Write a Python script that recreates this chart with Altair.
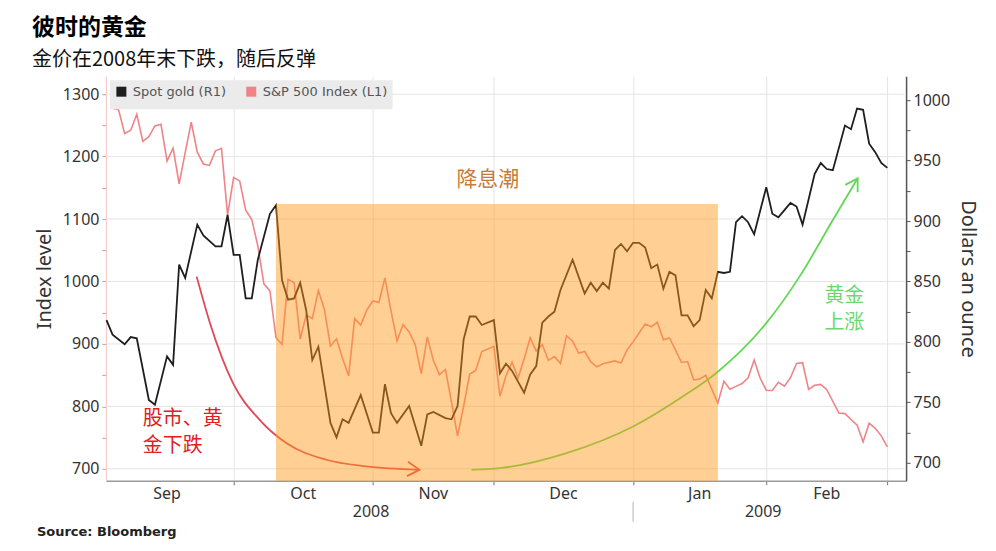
import altair as alt
import numpy as np
import pandas as pd

# ---------------- data ----------------
START = "2008-09-01"          # first weekday of the weekday calendar (x = weekday index)
CAL_END = "2009-02-27"

GOLD_NAME = "Spot gold (R1)"
SP_NAME = "S&P 500 Index (L1)"

# S&P 500 (left axis), one value per trading day, grouped by month
sp_holidays = ["2008-11-27", "2008-12-25", "2009-01-01", "2009-01-19", "2009-02-16"]
sp_sep = [1277.6, 1275.0, 1236.8, 1242.3, 1267.8, 1224.5, 1232.0, 1249.1, 1251.7, 1192.7,
          1213.6, 1156.4, 1206.5, 1255.1, 1207.1, 1188.2, 1185.9, 1209.2, 1213.3, 1106.4, 1166.4]
sp_oct = [1161.1, 1114.3, 1099.2, 1056.9, 996.2, 984.9, 909.9, 899.2, 1003.4, 998.0, 907.8,
          946.4, 940.6, 985.4, 955.1, 896.8, 908.1, 876.8, 848.9, 940.5, 930.1, 954.1, 968.8]
sp_nov = [966.3, 1005.8, 952.8, 904.9, 931.0, 919.2, 899.0, 852.3, 911.3, 873.3, 850.8,
          859.1, 806.6, 752.4, 800.0, 851.8, 857.4, 887.7, 896.2]
sp_dec = [816.2, 848.8, 870.7, 845.2, 876.1, 909.7, 888.7, 899.2, 873.6, 879.7, 868.6,
          913.2, 904.4, 885.3, 887.9, 871.6, 863.2, 868.2, 872.8, 869.4, 890.6, 903.3]
sp_jan = [931.8, 927.5, 934.7, 906.7, 909.7, 890.4, 870.3, 871.8, 842.6, 843.7, 850.1,
          805.2, 840.2, 827.5, 832.0, 836.6, 845.7, 874.1, 845.1, 825.9]
sp_feb = [825.4, 838.5, 832.2, 845.9, 868.6, 869.9, 827.2, 833.7, 835.2, 826.8, 789.2,
          788.4, 778.9, 770.1, 743.3, 773.1, 764.9, 752.8, 735.1]

# Spot gold (right axis), vertices
gold_dates = [
    "2008-09-01", "2008-09-02", "2008-09-04", "2008-09-05", "2008-09-08", "2008-09-10",
    "2008-09-11", "2008-09-15", "2008-09-16", "2008-09-17", "2008-09-18", "2008-09-22",
    "2008-09-23", "2008-09-25", "2008-09-26", "2008-09-29", "2008-09-30", "2008-10-01",
    "2008-10-02", "2008-10-03", "2008-10-06", "2008-10-08", "2008-10-09", "2008-10-10",
    "2008-10-13", "2008-10-14", "2008-10-15", "2008-10-16", "2008-10-17", "2008-10-20",
    "2008-10-22", "2008-10-23", "2008-10-24", "2008-10-27", "2008-10-29", "2008-10-31",
    "2008-11-03", "2008-11-04", "2008-11-05", "2008-11-06", "2008-11-10", "2008-11-12",
    "2008-11-13", "2008-11-14", "2008-11-18", "2008-11-19", "2008-11-20", "2008-11-21",
    "2008-11-24", "2008-11-25", "2008-11-26", "2008-11-28", "2008-12-01", "2008-12-02",
    "2008-12-03", "2008-12-05", "2008-12-08", "2008-12-09", "2008-12-10", "2008-12-11",
    "2008-12-12", "2008-12-15", "2008-12-17", "2008-12-19", "2008-12-22", "2008-12-23",
    "2008-12-24", "2008-12-25", "2008-12-26", "2008-12-29", "2008-12-30", "2008-12-31",
    "2009-01-01", "2009-01-02", "2009-01-05", "2009-01-06", "2009-01-07", "2009-01-08",
    "2009-01-09", "2009-01-12", "2009-01-13", "2009-01-14", "2009-01-15", "2009-01-16",
    "2009-01-19", "2009-01-20", "2009-01-21", "2009-01-22", "2009-01-23", "2009-01-26",
    "2009-01-27", "2009-01-28", "2009-01-30", "2009-02-02", "2009-02-03", "2009-02-04",
    "2009-02-05", "2009-02-06", "2009-02-09", "2009-02-11", "2009-02-12", "2009-02-13",
    "2009-02-16", "2009-02-18", "2009-02-19", "2009-02-20", "2009-02-23", "2009-02-24",
    "2009-02-25", "2009-02-26", "2009-02-27"]
gold_vals = [
    818, 806, 798, 804, 803, 752,
    748, 788, 781, 864, 853, 897,
    888, 879, 879, 905, 872, 872,
    836, 836, 868, 906, 913, 851,
    835, 836, 849, 826, 785, 796,
    733, 721, 736, 733, 756, 725,
    725, 765, 741, 733, 747, 714,
    740, 742, 737, 736, 747, 802,
    821, 821, 814, 818, 774, 782,
    776, 758, 773, 780, 816, 821,
    825, 843, 868, 840, 849, 842,
    849, 844, 876, 881, 875, 882,
    882, 878, 861, 864, 844, 858,
    855, 822, 822, 813, 818, 843,
    836, 858, 857, 858, 899, 904,
    899, 889, 928, 906, 903, 909,
    915, 912, 897, 939, 948, 943,
    942, 979, 976, 993, 992, 964,
    957, 948, 944]

# shaded "rate-cut wave" period (right-axis units for its top)
rate_cut_dates = ["2008-10-09", "2009-01-20"]
rate_cut_top = 914

# axis tick values
left_ticks = list(range(700, 1301, 50))
right_ticks = list(range(700, 1001, 25))
left_grid = list(range(700, 1301, 100))

# annotation arrows (x = weekday index, y = dollars)
red_arrow_i = [14.9, 17.1, 20.9, 25.3, 29.7, 36.3, 42.9, 51.7]
red_arrow_v = [854.0, 815.5, 765.9, 735.5, 716.3, 702.5, 697.0, 694.2]
green_arrow_i = [60.3, 65.0, 76.0, 87.0, 95.2, 100.7, 109.0, 114.5, 120.0, 124.1]
green_arrow_v = [694.2, 695.6, 708.0, 730.0, 754.8, 774.1, 815.5, 854.0, 900.8, 935.3]

# ---------------- layout ----------------
W, H = 801, 405
X_DOM = [-0.1, 132.1]
L_DOM = [680.8, 1328.8]
R_DOM = [685.1, 1019.8]


def widx(dates):
    return np.busday_count(START, list(dates)).astype(float)


sp_dates = [d for d in pd.bdate_range("2008-09-02", CAL_END).strftime("%Y-%m-%d")
            if d not in sp_holidays]
sp_vals = sp_sep + sp_oct + sp_nov + sp_dec + sp_jan + sp_feb
sp_df = pd.DataFrame({"date": sp_dates, "v": sp_vals, "s": SP_NAME})
sp_df["i"] = widx(sp_df["date"])

gold_df = pd.DataFrame({"date": gold_dates, "v": gold_vals, "s": GOLD_NAME})
gold_df["i"] = widx(gold_df["date"])

cal = pd.DataFrame({"d": pd.bdate_range(START, CAL_END)})
cal["i"] = np.arange(len(cal), dtype=float)
cal["m"] = cal["d"].dt.strftime("%b")
cal["ym"] = cal["d"].dt.strftime("%Y-%m")
cal["y"] = cal["d"].dt.strftime("%Y")
months = cal.groupby("ym").agg(m=("m", "first"), first=("i", "min"), last=("i", "max")).reset_index()
months["i"] = (months["first"] + months["last"]) / 2 - 0.5
month_end_idx = [float(v) for v in months["last"]]
years = cal.groupby("y").agg(first=("i", "min"), last=("i", "max")).reset_index()
years["lo"] = np.maximum(years["first"] - 0.5, X_DOM[0])
years["hi"] = np.minimum(years["last"] + 0.5, X_DOM[1])
years["i"] = (years["lo"] + years["hi"]) / 2
year_sep = float(years["last"].iloc[0])

xs = alt.Scale(domain=X_DOM, nice=False, zero=False)
ls = alt.Scale(domain=L_DOM, nice=False, zero=False)
rs = alt.Scale(domain=R_DOM, nice=False, zero=False)

LABEL_FONT = "Noto Sans"
CJK = "Noto Sans CJK SC"

legend = alt.Legend(title=None, orient="none", legendX=4, legendY=4, direction="horizontal",
                    fillColor="#EBEBEB", padding=5, symbolType="square", symbolSize=25,
                    symbolStrokeWidth=5, labelFont="DejaVu Sans", labelFontSize=13,
                    labelColor="#555555", columnPadding=12, labelOffset=5)
color = alt.Color("s:N", scale=alt.Scale(domain=[GOLD_NAME, SP_NAME],
                                         range=["#1E1E1E", "#EE8488"]), legend=legend)

x_axis = alt.Axis(values=month_end_idx, labels=False, ticks=True, tickSize=4, tickColor="#777777",
                  domainColor="#9A9A9A", domainWidth=1.5, grid=True, gridColor="#E4E4E4", title=None)
X = alt.X("i:Q", scale=xs, axis=x_axis)

l_axis = alt.Axis(orient="left", values=left_ticks, format="d",
                  labelExpr="datum.value % 100 == 0 ? datum.label : ''",
                  title="Index level", titleFont=LABEL_FONT, titleFontSize=20,
                  titleFontWeight="normal", titleColor="#333333", titlePadding=8,
                  labelFont=LABEL_FONT, labelFontSize=16, labelColor="#333333", labelPadding=3,
                  tickColor="#E89090", tickSize=4, domainColor="#F3C5C5", grid=False)
r_axis = alt.Axis(orient="right", values=right_ticks, format="d",
                  labelExpr="datum.value % 50 == 0 ? datum.label : ''",
                  title="Dollars an ounce", titleAngle=90, titleFont=LABEL_FONT, titleFontSize=20,
                  titleFontWeight="normal", titleColor="#333333", titlePadding=8,
                  labelFont=LABEL_FONT, labelFontSize=16, labelColor="#333333", labelPadding=3,
                  tickColor="#555555", tickSize=4, domainColor="#555555", domainWidth=1.5, grid=False)

YL = alt.Y("v:Q", scale=ls, axis=l_axis)
YR = alt.Y("v:Q", scale=rs, axis=r_axis)

# ---------- left-axis group ----------
grid = alt.Chart(pd.DataFrame({"v": left_grid})).mark_rule(color="#E4E4E4", strokeWidth=1).encode(y=YL)
sp_line = alt.Chart(sp_df).mark_line(strokeWidth=1.6).encode(x=X, y=YL, color=color)
month_labels = alt.Chart(months).mark_text(font=LABEL_FONT, fontSize=16, color="#333333",
                                           baseline="middle").encode(
    x=X, y=alt.value(H + 13), text="m:N")
year_labels = alt.Chart(years).mark_text(font=LABEL_FONT, fontSize=16, color="#333333",
                                         baseline="middle").encode(
    x=X, y=alt.value(H + 31), text="y:N")
sep = alt.Chart(pd.DataFrame({"i": [year_sep]})).mark_rule(color="#B5B5B5", strokeWidth=1).encode(
    x=X, y=alt.value(H + 21), y2=alt.value(H + 41))
source = alt.Chart(pd.DataFrame({"t": ["Source: Bloomberg"]})).mark_text(
    font="DejaVu Sans", fontWeight="bold", fontSize=13, align="left", baseline="middle",
    color="#222222").encode(x=alt.value(-69), y=alt.value(H + 51), text="t:N")

left = alt.layer(grid, sp_line, month_labels, year_labels, sep, source)

# ---------- right-axis group ----------
gold_line = alt.Chart(gold_df).mark_line(strokeWidth=1.8).encode(x=X, y=YR, color=color)

CHEVRON = "M -1 -0.6 L 0 0 L -1 0.6"
red_df = pd.DataFrame({"i": red_arrow_i, "v": red_arrow_v})
green_df = pd.DataFrame({"i": green_arrow_i, "v": green_arrow_v})
red_arrow = alt.Chart(red_df).mark_line(color="#E04858", strokeWidth=1.8,
                                        interpolate="monotone").encode(x=X, y=YR)
red_head = alt.Chart(red_df.tail(1)).mark_point(shape=CHEVRON, filled=False, size=576, strokeWidth=1.8,
                                                color="#E04858", opacity=1, angle=4).encode(x=X, y=YR)
green_arrow = alt.Chart(green_df).mark_line(color="#62D855", strokeWidth=1.8,
                                            interpolate="monotone").encode(x=X, y=YR)
green_head = alt.Chart(green_df.tail(1)).mark_point(shape=CHEVRON, filled=False, size=576, strokeWidth=1.8,
                                                    color="#62D855", opacity=1, angle=301).encode(x=X, y=YR)

t_rate = alt.Chart(pd.DataFrame({"i": [63.0], "v": [934.0], "t": ["降息潮"]})).mark_text(
    font=CJK, fontSize=21, color="#C97B35", baseline="middle").encode(x=X, y=YR, text="t:N")
t_down = alt.Chart(pd.DataFrame({"i": [6.0, 6.0], "v": [736.5, 714.0], "t": ["股市、黄", "金下跌"]})).mark_text(
    font=CJK, fontSize=20, color="#E0201E", align="left", baseline="middle").encode(x=X, y=YR, text="t:N")
t_up = alt.Chart(pd.DataFrame({"i": [121.9, 121.9], "v": [838.0, 816.0], "t": ["黄金", "上涨"]})).mark_text(
    font=CJK, fontSize=20, color="#6CD86C", baseline="middle").encode(x=X, y=YR, text="t:N")

rect_df = pd.DataFrame({"i": widx(rate_cut_dates[:1]), "i2": widx(rate_cut_dates[1:]),
                        "v": [rate_cut_top], "bot": [R_DOM[0]]})
rate_rect = alt.Chart(rect_df).mark_rect(color="#FF9A1B", opacity=0.47).encode(
    x=X, x2="i2:Q", y=YR, y2="bot:Q")

right = alt.layer(gold_line, red_arrow, red_head, green_arrow, green_head, t_rate, t_down, t_up, rate_rect)

chart = alt.layer(left, right).resolve_scale(y="independent").properties(
    width=W, height=H,
    title=alt.TitleParams(text="彼时的黄金", subtitle="金价在2008年末下跌，随后反弹",
                          anchor="start", frame="group", dx=-74, offset=6,
                          font=CJK, fontSize=23, fontWeight="bold", color="#000000",
                          subtitleFont=CJK, subtitleFontSize=20, subtitleColor="#111111",
                          subtitlePadding=10),
    autosize=alt.AutoSizeParams(type="none"),
    padding={"left": 98, "top": 68, "right": 82, "bottom": 60},
).configure_view(strokeWidth=0)

chart.save("out.html", embed_options={"renderer": "svg", "actions": False})
